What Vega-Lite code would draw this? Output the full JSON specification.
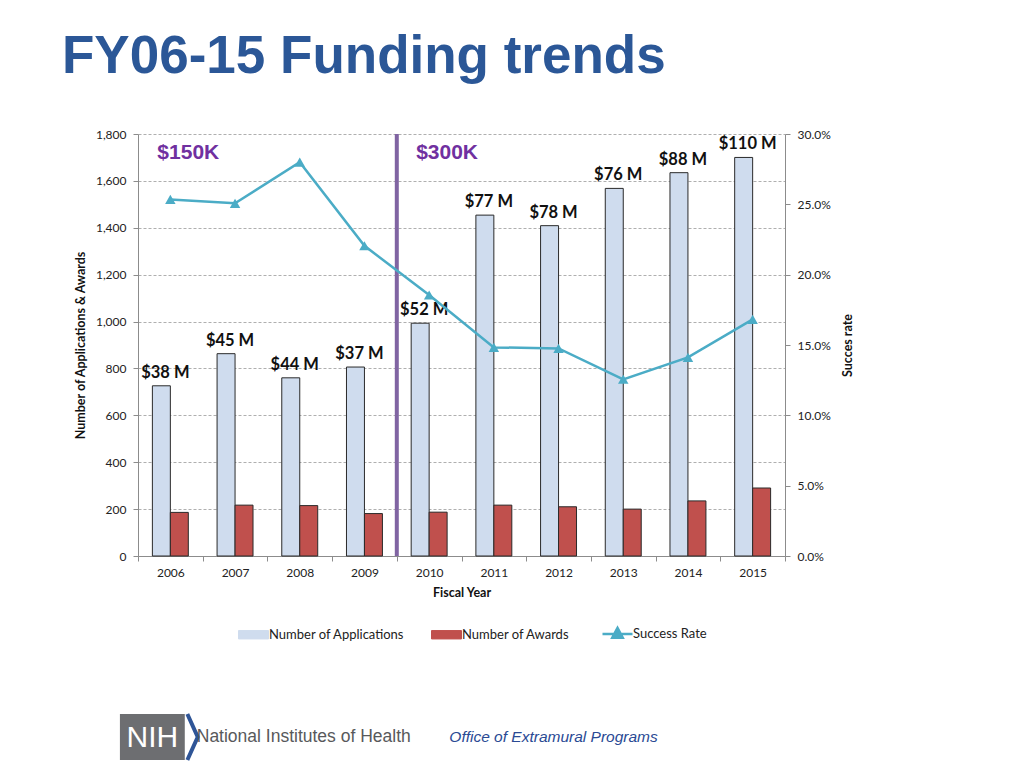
{
  "$schema": "https://vega.github.io/schema/vega-lite/v6.json",
  "width": 647,
  "height": 422,
  "autosize": {"type": "none"},
  "padding": {"left": 138, "top": 134, "right": 239, "bottom": 212},
  "background": "white",
  "title": {
    "text": "FY06-15 Funding trends",
    "anchor": "start",
    "frame": "group",
    "dx": -76,
    "baseline": "alphabetic",
    "offset": 2,
    "font": "Liberation Sans",
    "fontSize": 53,
    "fontWeight": "bold",
    "color": "#2b5797"
  },
  "datasets": {
    "main": [
      {"year": "2006", "Number of Applications": 726, "Number of  Awards": 186, "Success Rate": 0.2535, "label": "$38 M"},
      {"year": "2007", "Number of Applications": 863, "Number of  Awards": 217, "Success Rate": 0.2507, "label": "$45 M"},
      {"year": "2008", "Number of Applications": 760, "Number of  Awards": 215, "Success Rate": 0.2800, "label": "$44 M"},
      {"year": "2009", "Number of Applications": 806, "Number of  Awards": 181, "Success Rate": 0.2205, "label": "$37 M"},
      {"year": "2010", "Number of Applications": 993, "Number of  Awards": 187, "Success Rate": 0.1855, "label": "$52 M"},
      {"year": "2011", "Number of Applications": 1454, "Number of  Awards": 217, "Success Rate": 0.1483, "label": "$77 M"},
      {"year": "2012", "Number of Applications": 1409, "Number of  Awards": 210, "Success Rate": 0.1476, "label": "$78 M"},
      {"year": "2013", "Number of Applications": 1568, "Number of  Awards": 200, "Success Rate": 0.1256, "label": "$76 M"},
      {"year": "2014", "Number of Applications": 1635, "Number of  Awards": 235, "Success Rate": 0.1412, "label": "$88 M"},
      {"year": "2015", "Number of Applications": 1700, "Number of  Awards": 290, "Success Rate": 0.1682, "label": "$110 M"}
    ],
    "notes": [
      {"year": "2006", "note": "$150K"},
      {"year": "2010", "note": "$300K"}
    ]
  },
  "config": {
    "font": "Lato",
    "view": {"stroke": null},
    "axis": {
      "labelFont": "Lato",
      "labelFontSize": 12,
      "labelColor": "#222222",
      "titleFont": "Lato",
      "titleFontSize": 12.5,
      "titleFontWeight": "bold",
      "titleColor": "#111111",
      "domainColor": "#8c8c8c",
      "tickColor": "#8c8c8c",
      "tickSize": 5
    },
    "legend": {
      "orient": "none", "legendX": 109, "legendY": 493, "direction": "horizontal",
      "labelFont": "Lato", "labelFontSize": 13, "labelColor": "#222222",
      "symbolSize": 900, "labelOffset": 9, "columnPadding": 24
    }
  },
  "resolve": {"scale": {"y": "independent"}},
  "layer": [
    {
      "layer": [
        {
          "data": {"name": "main"},
          "transform": [{"fold": ["Number of Applications", "Number of  Awards"], "as": ["key", "value"]}],
          "mark": {"type": "bar", "stroke": "#2a2a2a", "strokeWidth": 1},
          "encoding": {
            "x": {"field": "year", "type": "nominal", "title": "Fiscal Year",
                  "scale": {"paddingInner": 0, "paddingOuter": 0},
                  "axis": {"labelAngle": 0, "tickBand": "extent", "labelPadding": 6, "titlePadding": 8}},
            "xOffset": {"field": "key", "type": "nominal",
                        "scale": {"domain": ["Number of Applications", "Number of  Awards"], "paddingInner": 0, "paddingOuter": 0.8}},
            "y": {"field": "value", "type": "quantitative", "title": "Number of Applications & Awards",
                  "scale": {"domain": [0, 1800], "nice": false},
                  "axis": {"values": [0, 200, 400, 600, 800, 1000, 1200, 1400, 1600, 1800], "format": ",.0f",
                           "grid": true, "gridDash": [3, 2], "gridColor": "#9a9a9a", "gridWidth": 0.8,
                           "labelPadding": 7, "titlePadding": 8}},
            "color": {"field": "key", "type": "nominal", "title": null,
                      "scale": {"domain": ["Number of Applications", "Number of  Awards", "Success Rate"],
                                "range": ["#cfdcee", "#c0504d", "#4bacc6"]},
                      "legend": {
                        "encode": {"symbols": {"update": {
                          "shape": {"signal": "datum.value === 'Success Rate' ? 'M-1,0H1M0,-0.4L0.35,0.25H-0.35Z' : 'M-1,-0.28H1V0.28H-1Z'"},
                          "fill": {"signal": "datum.value === 'Success Rate' ? '#4bacc6' : (datum.value === 'Number of Applications' ? '#cfdcee' : '#c0504d')"},
                          "stroke": {"signal": "datum.value === 'Success Rate' ? '#4bacc6' : '#333333'"},
                          "strokeWidth": {"signal": "datum.value === 'Success Rate' ? 2.5 : 1"},
                          "opacity": {"value": 1}
                        }}}
                      }}
          }
        },
        {
          "data": {"values": [{}]},
          "mark": {"type": "rule", "color": "#8064a2", "strokeWidth": 4},
          "encoding": {
            "x": {"datum": "2010", "type": "nominal", "bandPosition": 0, "title": "Fiscal Year"}
          }
        },
        {
          "data": {"name": "main"},
          "mark": {"type": "text", "font": "Lato", "fontWeight": "bold", "fontSize": 16.5, "color": "#111111", "dx": -5, "dy": -13},
          "encoding": {
            "x": {"field": "year", "type": "nominal", "title": "Fiscal Year"},
            "y": {"field": "Number of Applications", "type": "quantitative", "title": "Number of Applications & Awards"},
            "text": {"field": "label"}
          }
        },
        {
          "data": {"name": "notes"},
          "mark": {"type": "text", "font": "Liberation Sans", "fontWeight": "bold", "fontSize": 21, "color": "#7030a0", "align": "left", "dx": -13},
          "encoding": {
            "x": {"field": "year", "type": "nominal", "title": "Fiscal Year"},
            "y": {"datum": 1720, "title": "Number of Applications & Awards"},
            "text": {"field": "note"}
          }
        },
        {
          "data": {"values": [{"t": "NIH box"}]},
          "mark": {"type": "point", "shape": "M-1.41,-1H1.41V1H-1.41Z", "size": 2116, "filled": true, "color": "#6d6e71", "opacity": 1, "xOffset": -18},
          "encoding": {
            "x": {"datum": "2006", "type": "nominal", "title": "Fiscal Year"},
            "y": {"datum": -772, "title": "Number of Applications & Awards"}
          }
        },
        {
          "data": {"values": [{"t": "chevron"}]},
          "mark": {"type": "point", "shape": "M0,-1L0.45,0L0,1", "size": 2116, "filled": false, "stroke": "#2f5597", "strokeWidth": 4, "opacity": 1, "xOffset": 17},
          "encoding": {
            "x": {"datum": "2006", "type": "nominal", "title": "Fiscal Year"},
            "y": {"datum": -772, "title": "Number of Applications & Awards"}
          }
        },
        {
          "data": {"values": [{"t": "NIH"}]},
          "mark": {"type": "text", "font": "Liberation Sans", "fontSize": 30, "color": "white", "dx": -18, "dy": 1},
          "encoding": {
            "x": {"datum": "2006", "type": "nominal", "title": "Fiscal Year"},
            "y": {"datum": -772, "title": "Number of Applications & Awards"},
            "text": {"field": "t"}
          }
        },
        {
          "data": {"values": [{"t": "National Institutes of Health"}]},
          "mark": {"type": "text", "font": "Liberation Sans", "fontSize": 17.5, "color": "#58595b", "dx": 4},
          "encoding": {
            "x": {"datum": "2008", "type": "nominal", "title": "Fiscal Year"},
            "y": {"datum": -772, "title": "Number of Applications & Awards"},
            "text": {"field": "t"}
          }
        },
        {
          "data": {"values": [{"t": "Office of Extramural Programs"}]},
          "mark": {"type": "text", "font": "Liberation Sans", "fontSize": 15.5, "fontStyle": "italic", "color": "#2a4a94", "dx": -5},
          "encoding": {
            "x": {"datum": "2012", "type": "nominal", "title": "Fiscal Year"},
            "y": {"datum": -772, "title": "Number of Applications & Awards"},
            "text": {"field": "t"}
          }
        }
      ]
    },
    {
      "data": {"name": "main"},
      "mark": {"type": "line", "strokeWidth": 2.5, "point": {"shape": "triangle-up", "filled": true, "size": 110}},
      "encoding": {
        "x": {"field": "year", "type": "nominal", "title": "Fiscal Year"},
        "y": {"field": "Success Rate", "type": "quantitative", "title": "Succes rate",
              "scale": {"domain": [0, 0.3], "nice": false},
              "axis": {"orient": "right", "values": [0, 0.05, 0.1, 0.15, 0.2, 0.25, 0.3], "format": ".1%",
                       "grid": false, "labelPadding": 7, "titleAngle": 270, "titlePadding": 24}},
        "color": {"datum": "Success Rate", "type": "nominal",
                  "legend": {
                    "encode": {"symbols": {"update": {
                      "shape": {"signal": "datum.value === 'Success Rate' ? 'M-1,0H1M0,-0.4L0.35,0.25H-0.35Z' : 'M-1,-0.28H1V0.28H-1Z'"},
                      "fill": {"signal": "datum.value === 'Success Rate' ? '#4bacc6' : (datum.value === 'Number of Applications' ? '#cfdcee' : '#c0504d')"},
                      "stroke": {"signal": "datum.value === 'Success Rate' ? '#4bacc6' : '#333333'"},
                      "strokeWidth": {"signal": "datum.value === 'Success Rate' ? 2.5 : 1"},
                      "opacity": {"value": 1}
                    }}}
                  }}
      }
    }
  ]
}
